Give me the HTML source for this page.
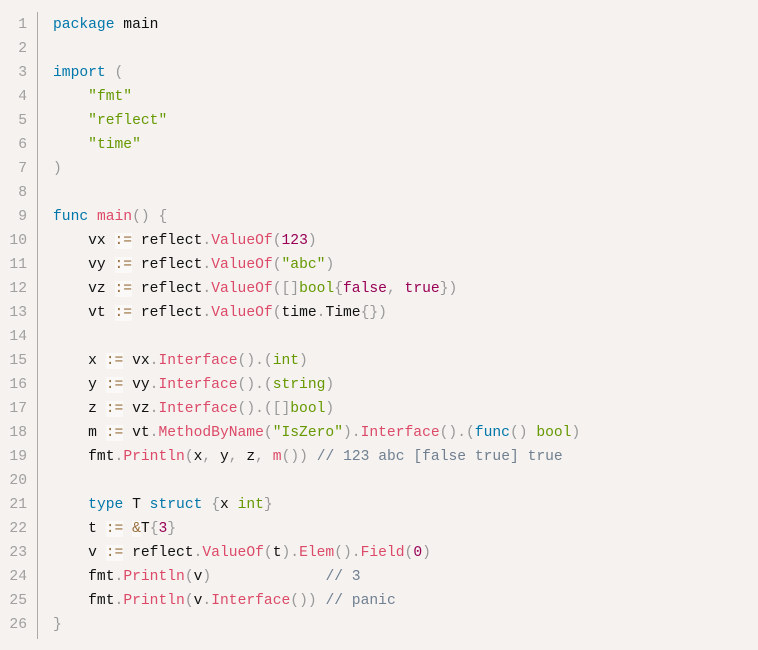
<!DOCTYPE html>
<html><head><meta charset="utf-8"><style>
html,body{margin:0;padding:0;background:#f5f2f0;}
body{width:758px;height:650px;overflow:hidden;position:relative;}
.g{position:absolute;left:0;top:13px;width:27px;text-align:right;color:#a0a0a0;}
.bar{position:absolute;left:37px;top:12px;width:1px;height:627px;background:#aaa;}
.c{position:absolute;left:53px;top:13px;color:#111;}
.g,.c{font-family:"Liberation Mono",monospace;font-size:14.65px;line-height:24px;white-space:pre;}
.k{color:#07a}.f{color:#DD4A68}.s{color:#690}.n{color:#905}.p{color:#999}
.o{color:#9a6e3a;background:rgba(255,255,255,.5)}.cm{color:#708090}
</style></head><body>
<div class="g">1
2
3
4
5
6
7
8
9
10
11
12
13
14
15
16
17
18
19
20
21
22
23
24
25
26</div>
<div class="bar"></div>
<div class="c"><span class="k">package</span> main

<span class="k">import</span> <span class="p">(</span>
    <span class="s">"fmt"</span>
    <span class="s">"reflect"</span>
    <span class="s">"time"</span>
<span class="p">)</span>

<span class="k">func</span> <span class="f">main</span><span class="p">()</span> <span class="p">{</span>
    vx <span class="o">:=</span> reflect<span class="p">.</span><span class="f">ValueOf</span><span class="p">(</span><span class="n">123</span><span class="p">)</span>
    vy <span class="o">:=</span> reflect<span class="p">.</span><span class="f">ValueOf</span><span class="p">(</span><span class="s">"abc"</span><span class="p">)</span>
    vz <span class="o">:=</span> reflect<span class="p">.</span><span class="f">ValueOf</span><span class="p">([]</span><span class="s">bool</span><span class="p">{</span><span class="n">false</span><span class="p">,</span> <span class="n">true</span><span class="p">})</span>
    vt <span class="o">:=</span> reflect<span class="p">.</span><span class="f">ValueOf</span><span class="p">(</span>time<span class="p">.</span>Time<span class="p">{})</span>

    x <span class="o">:=</span> vx<span class="p">.</span><span class="f">Interface</span><span class="p">().(</span><span class="s">int</span><span class="p">)</span>
    y <span class="o">:=</span> vy<span class="p">.</span><span class="f">Interface</span><span class="p">().(</span><span class="s">string</span><span class="p">)</span>
    z <span class="o">:=</span> vz<span class="p">.</span><span class="f">Interface</span><span class="p">().([]</span><span class="s">bool</span><span class="p">)</span>
    m <span class="o">:=</span> vt<span class="p">.</span><span class="f">MethodByName</span><span class="p">(</span><span class="s">"IsZero"</span><span class="p">).</span><span class="f">Interface</span><span class="p">().(</span><span class="k">func</span><span class="p">()</span> <span class="s">bool</span><span class="p">)</span>
    fmt<span class="p">.</span><span class="f">Println</span><span class="p">(</span>x<span class="p">,</span> y<span class="p">,</span> z<span class="p">,</span> <span class="f">m</span><span class="p">())</span> <span class="cm">// 123 abc [false true] true</span>

    <span class="k">type</span> T <span class="k">struct</span> <span class="p">{</span>x <span class="s">int</span><span class="p">}</span>
    t <span class="o">:=</span> <span class="o">&amp;</span>T<span class="p">{</span><span class="n">3</span><span class="p">}</span>
    v <span class="o">:=</span> reflect<span class="p">.</span><span class="f">ValueOf</span><span class="p">(</span>t<span class="p">).</span><span class="f">Elem</span><span class="p">().</span><span class="f">Field</span><span class="p">(</span><span class="n">0</span><span class="p">)</span>
    fmt<span class="p">.</span><span class="f">Println</span><span class="p">(</span>v<span class="p">)</span>             <span class="cm">// 3</span>
    fmt<span class="p">.</span><span class="f">Println</span><span class="p">(</span>v<span class="p">.</span><span class="f">Interface</span><span class="p">())</span> <span class="cm">// panic</span>
<span class="p">}</span></div>
</body></html>
